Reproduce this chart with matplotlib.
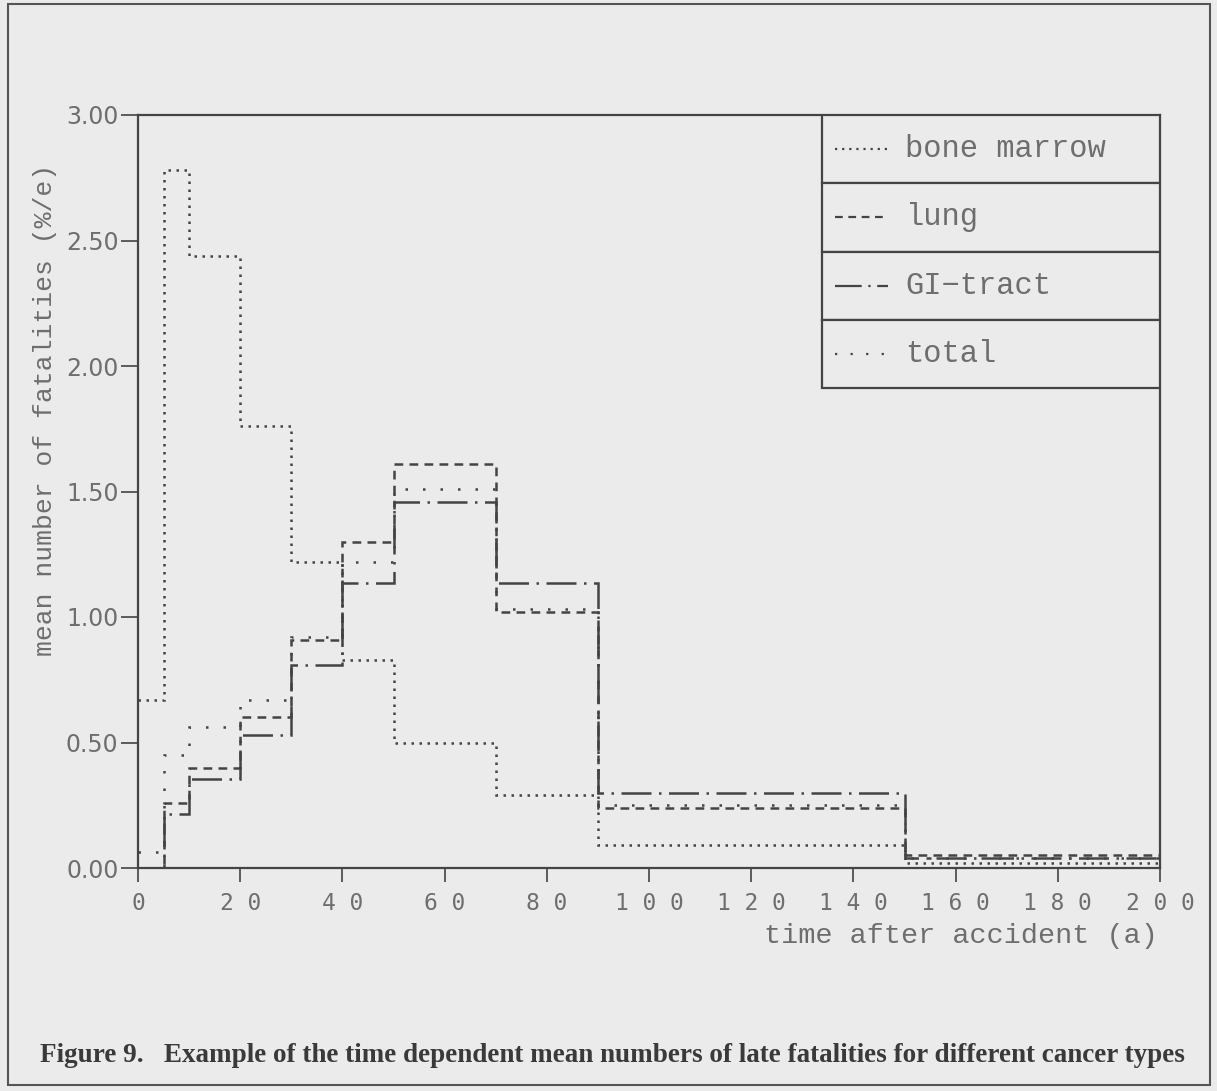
import numpy as np
import matplotlib.pyplot as plt
from matplotlib.lines import Line2D

# step edges (years after accident)
edges = [0, 5, 10, 20, 30, 40, 50, 70, 90, 150, 200]

# mean number of fatalities (%/a) per interval
bone_marrow = [0.67, 2.78, 2.44, 1.76, 1.22, 0.83, 0.50, 0.29, 0.09, 0.02]
lung = [0.0, 0.26, 0.40, 0.60, 0.91, 1.30, 1.61, 1.02, 0.24, 0.05]
gi_tract = [0.0, 0.215, 0.355, 0.53, 0.81, 1.135, 1.46, 1.135, 0.30, 0.04]
total = [0.065, 0.45, 0.56, 0.67, 0.92, 1.22, 1.51, 1.03, 0.25, 0.04]

series_names = ["bone marrow", "lung", "GI\u2212tract", "total"]
xticks = [0, 20, 40, 60, 80, 100, 120, 140, 160, 180, 200]
yticks = [0.0, 0.5, 1.0, 1.5, 2.0, 2.5, 3.0]

bg = "#ebebeb"
ink = "#444444"
txt = "#6e6e6e"

styles = [
    (0, (1, 2.2)),
    (0, (3.5, 2.5)),
    (0, (12, 3, 1, 3)),
    (0, (1, 6)),
]

fig = plt.figure(figsize=(12.17, 10.91), dpi=100, facecolor=bg)
ax = fig.add_axes([138 / 1217, 1 - 868 / 1091, (1160 - 138) / 1217, (868 - 115) / 1091])
ax.set_facecolor(bg)

for vals, ls in zip([bone_marrow, lung, gi_tract, total], styles):
    ax.stairs(vals, edges, baseline=None, color=ink, linewidth=1.8, linestyle=ls)

ax.set_xlim(0, 200)
ax.set_ylim(0, 3.0)
for s in ax.spines.values():
    s.set_color(ink)
    s.set_linewidth(1.6)

ax.set_xticks(xticks)
ax.set_xticklabels([" ".join(str(v)) for v in xticks],
                   family="DejaVu Sans Mono", fontsize=16.5, color=txt)
ax.set_yticks(yticks)
ax.set_yticklabels(["%.2f" % v for v in yticks], family="DejaVu Sans", fontsize=17, color=txt)
ax.tick_params(axis="x", direction="out", length=10, width=1.2, color=ink, pad=7)
ax.tick_params(axis="y", direction="out", length=12, width=1.2, color=ink, pad=2)

fig.text(1158 / 1217, 1 - 936 / 1091, "time after accident (a)", family="Liberation Mono",
         fontsize=20.5, color=txt, ha="right", va="center")
fig.text(45 / 1217, 1 - 410 / 1091, "mean number of fatalities (%/e)", family="Liberation Mono",
         fontsize=19, color=txt, ha="center", va="center", rotation=90)

# legend drawn as a ruled box in the upper right corner
lx0, lx1 = (822 - 138) / 1022, 1.0
row_h = (388 - 115) / 4 / 753
for i, (name, ls) in enumerate(zip(series_names, styles)):
    top = 1.0 - i * row_h
    bot = top - row_h
    ax.add_patch(plt.Rectangle((lx0, bot), lx1 - lx0, row_h, transform=ax.transAxes,
                               facecolor=bg, edgecolor=ink, linewidth=1.6, zorder=5))
    yc = (top + bot) / 2
    ax.add_line(Line2D([(835 - 138) / 1022, (888 - 138) / 1022], [yc, yc], transform=ax.transAxes,
                       color=ink, linewidth=1.6, linestyle=ls, zorder=6))
    ax.text((905 - 138) / 1022, yc, name, transform=ax.transAxes, family="Liberation Mono",
            fontsize=22, color=txt, va="center", ha="left", zorder=7)

# outer frame and caption
fig.add_artist(plt.Rectangle((8 / 1217, 1 - 1085 / 1091), 1202 / 1217, 1081 / 1091,
                             transform=fig.transFigure, fill=False, edgecolor="#555555", linewidth=1.5))
fig.text(40 / 1217, 1 - 1055 / 1091,
         "Figure 9.   Example of the time dependent mean numbers of late fatalities for different cancer types",
         family="Liberation Serif", weight="bold", fontsize=19.5, color="#3a3a3a", ha="left", va="center")

fig.savefig("out.png", dpi=100, facecolor=bg)
